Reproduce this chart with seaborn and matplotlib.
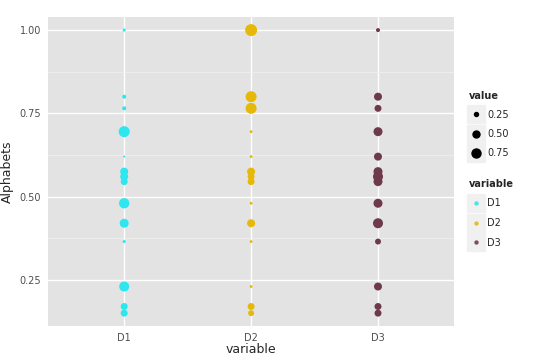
import numpy as np
import pandas as pd
import matplotlib
matplotlib.use("Agg")
import matplotlib.pyplot as plt
from matplotlib.lines import Line2D
from matplotlib.legend_handler import HandlerTuple
import seaborn as sns

# ---- data ----
alphabets = [1.00, 0.80, 0.765, 0.695, 0.62, 0.575, 0.56, 0.545, 0.48, 0.42, 0.365, 0.23, 0.17, 0.15]
d1 = [0.20, 0.25, 0.25, 1.06, 0.16, 0.62, 0.62, 0.50, 0.95, 0.75, 0.20, 0.90, 0.50, 0.50]
d2 = [1.23, 1.06, 1.06, 0.19, 0.19, 0.62, 0.50, 0.50, 0.19, 0.62, 0.19, 0.19, 0.50, 0.40]
d3 = [0.25, 0.62, 0.50, 0.75, 0.62, 0.75, 0.90, 0.75, 0.75, 0.90, 0.40, 0.62, 0.50, 0.50]
variables = ["D1", "D2", "D3"]
colors = ["#2DE6EE", "#E6B80A", "#6E3A4A"]
size_breaks = [0.25, 0.50, 0.75]
y_ticks = [0.25, 0.50, 0.75, 1.00]
y_tick_labels = ["0.25", "0.50", "0.75", "1.00"]

wide = pd.DataFrame({"Alphabets": alphabets, "D1": d1, "D2": d2, "D3": d3})
df = wide.melt(id_vars="Alphabets", var_name="variable", value_name="value")

# ---- style ----
sns.set_style("white")
plt.rcParams["font.family"] = ["DejaVu Sans"]

fig = plt.figure(figsize=(5.4, 3.64), dpi=100)
ax = fig.add_axes([0.089, 0.104, 0.752, 0.849])
ax.set_facecolor("#E3E3E3")

size_norm = (0.15, 1.25)
sizes = (1.56, 75.7)

def size_of(v):
    return sizes[0] + (v - size_norm[0]) / (size_norm[1] - size_norm[0]) * (sizes[1] - sizes[0])

palette = dict(zip(variables, colors))
sns.scatterplot(data=df, x="variable", y="Alphabets", hue="variable", size="value",
                palette=palette, sizes=sizes, size_norm=size_norm, linewidth=0,
                legend=False, ax=ax, zorder=3)

ax.set_xlim(-0.6, 2.6)
ax.set_ylim(0.111, 1.039)
ax.set_yticks(y_ticks)
ax.set_yticklabels(y_tick_labels)
ax.set_yticks([0.375, 0.625, 0.875], minor=True)

ax.grid(True, which="major", color="white", linewidth=1.0, zorder=0)
ax.grid(True, which="minor", axis="y", color="#F0F0F0", linewidth=0.6, zorder=0)
ax.set_axisbelow(True)
for s in ax.spines.values():
    s.set_visible(False)

ax.tick_params(axis="both", which="major", length=3, width=0.8, color="#7F7F7F",
               labelsize=7, labelcolor="#4D4D4D", pad=2)
ax.tick_params(axis="y", which="minor", length=0)
ax.set_xlabel("variable", fontsize=9, labelpad=0)
ax.set_ylabel("Alphabets", fontsize=9, labelpad=4)

# ---- legends ----
def key_bg():
    return Line2D([], [], marker="s", linestyle="", color="#F0F0F0", markersize=12.5)

size_handles = [(key_bg(), Line2D([], [], marker="o", linestyle="", color="black",
                                  markersize=np.sqrt(size_of(v)))) for v in size_breaks]
leg1 = fig.legend(size_handles, [f"{v:.2f}" for v in size_breaks], title="value",
                  loc="upper left", bbox_to_anchor=(0.855, 0.77), frameon=False,
                  fontsize=7, title_fontsize=7, labelspacing=0.95, handletextpad=0.3,
                  handlelength=1.6, borderpad=0.2, alignment="left",
                  handler_map={tuple: HandlerTuple(ndivide=1)})
leg1.get_title().set_fontweight("bold")

col_handles = [(key_bg(), Line2D([], [], marker="o", linestyle="", color=c, markersize=2.2,
                                 alpha=0.8)) for c in colors]
leg2 = fig.legend(col_handles, variables, title="variable",
                  loc="upper left", bbox_to_anchor=(0.855, 0.528), frameon=False,
                  fontsize=7, title_fontsize=7, labelspacing=1.0, handletextpad=0.3,
                  handlelength=1.6, borderpad=0.2, alignment="left",
                  handler_map={tuple: HandlerTuple(ndivide=1)})
leg2.get_title().set_fontweight("bold")

fig.savefig("out.png", dpi=100)
